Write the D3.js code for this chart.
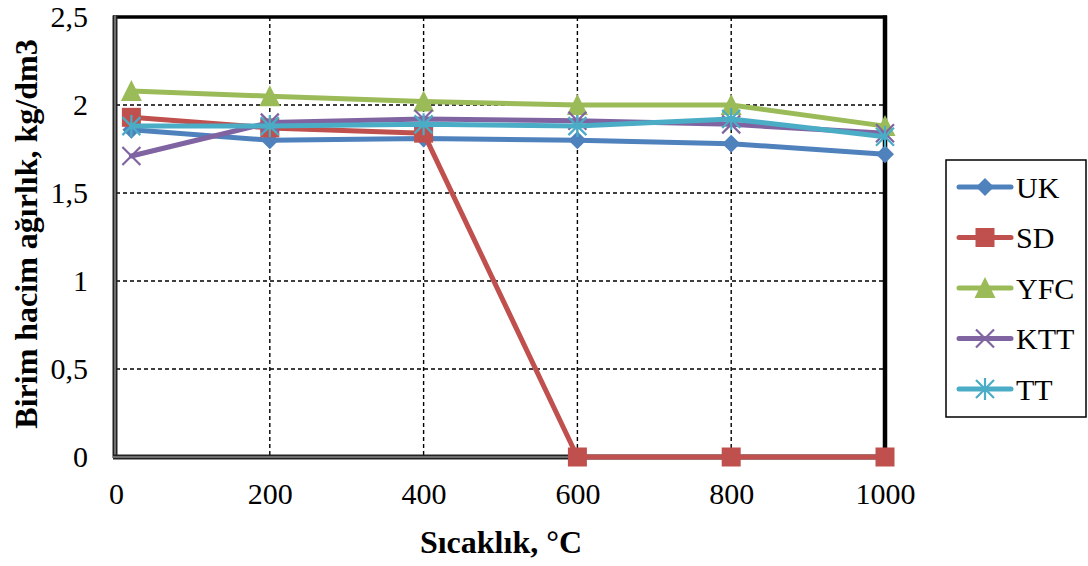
<!DOCTYPE html>
<html>
<head>
<meta charset="utf-8">
<script src="https://cdn.jsdelivr.net/npm/d3@7"></script>
<style>
  html, body { margin: 0; padding: 0; background: #fff; }
  svg { display: block; }
</style>
</head>
<body>
<svg id="chart" width="1088" height="566"></svg>
<script>
// Temperatures (°C) and unit weights (kg/dm3) per mixture
const temperatures = [20, 200, 400, 600, 800, 1000];
const seriesNames = ["UK", "SD", "YFC", "KTT", "TT"];
const ukValues  = [1.86, 1.80, 1.81, 1.80, 1.78, 1.72];
const sdValues  = [1.93, 1.87, 1.84, 0, 0, 0];
const yfcValues = [2.08, 2.05, 2.02, 2.00, 2.00, 1.88];
const kttValues = [1.71, 1.90, 1.92, 1.91, 1.89, 1.84];
const ttValues  = [1.88, 1.88, 1.89, 1.88, 1.92, 1.82];
const xTicks = [0, 200, 400, 600, 800, 1000];
const yTicks = [0, 0.5, 1, 1.5, 2, 2.5];

const serif = "'Liberation Serif', 'Times New Roman', serif";
const colors = { UK: "#4F81BD", SD: "#C0504D", YFC: "#9BBB59", KTT: "#8064A2", TT: "#4BACC6" };
const markers = { UK: "diamond", SD: "square", YFC: "triangle", KTT: "cross", TT: "star" };
const valuesByName = { UK: ukValues, SD: sdValues, YFC: yfcValues, KTT: kttValues, TT: ttValues };

const svg = d3.select("#chart");
const plotLeft = 116, plotRight = 885, plotTop = 17, plotBottom = 457;

const x = d3.scaleLinear().domain([0, 1000]).range([plotLeft, plotRight]);
const y = d3.scaleLinear().domain([0, 2.5]).range([plotBottom, plotTop]);
const fmt = v => String(v).replace(".", ",");

// Dashed grid
const grid = svg.append("g").attr("stroke", "#000").attr("stroke-width", 1.4)
  .attr("stroke-dasharray", "4,3").attr("fill", "none");
grid.selectAll("line.v").data(xTicks.filter(t => t > 0 && t < 1000)).join("line").attr("class", "v")
  .attr("x1", d => x(d)).attr("x2", d => x(d)).attr("y1", plotTop).attr("y2", plotBottom);
grid.selectAll("line.h").data(yTicks.filter(t => t > 0 && t < 2.5)).join("line").attr("class", "h")
  .attr("x1", plotLeft).attr("x2", plotRight).attr("y1", d => y(d)).attr("y2", d => y(d));

// Plot frame: heavy top/right, double left/bottom
svg.append("line").attr("x1", plotLeft - 3).attr("x2", plotRight + 2).attr("y1", plotTop).attr("y2", plotTop)
  .attr("stroke", "#000").attr("stroke-width", 3.5);
svg.append("line").attr("x1", plotRight).attr("x2", plotRight).attr("y1", plotTop - 1.5).attr("y2", plotBottom)
  .attr("stroke", "#000").attr("stroke-width", 4.5);
[[plotLeft - 1, plotTop - 1.5, plotLeft - 1, plotBottom + 1], [plotLeft - 3, plotBottom, plotRight, plotBottom]].forEach(([x1, y1, x2, y2]) => {
  svg.append("line").attr("x1", x1).attr("y1", y1).attr("x2", x2).attr("y2", y2)
    .attr("stroke", "#222").attr("stroke-width", 5);
  svg.append("line").attr("x1", x1).attr("y1", y1).attr("x2", x2).attr("y2", y2)
    .attr("stroke", "#bbb").attr("stroke-width", 1);
});

// Axes (labels only)
const xAxis = d3.axisBottom(x).tickValues(xTicks).tickSize(0).tickPadding(26).tickFormat(d => d);
svg.append("g").attr("transform", `translate(0,${plotBottom})`).call(xAxis)
  .attr("font-family", serif).attr("font-size", 30)
  .call(g => g.select(".domain").remove())
  .selectAll("text").attr("fill", "#000");
const yAxis = d3.axisLeft(y).tickValues(yTicks).tickSize(0).tickPadding(28).tickFormat(fmt);
svg.append("g").attr("transform", `translate(${plotLeft},0)`).call(yAxis)
  .attr("font-family", serif).attr("font-size", 30)
  .call(g => g.select(".domain").remove())
  .selectAll("text").attr("fill", "#000");

// Axis titles
svg.append("text").attr("x", 501).attr("y", 553).attr("text-anchor", "middle")
  .attr("font-family", serif).attr("font-size", 32).attr("font-weight", "bold").text("Sıcaklık, °C");
svg.append("text").attr("transform", "translate(37,234) rotate(-90)").attr("text-anchor", "middle")
  .attr("font-family", serif).attr("font-size", 32).attr("font-weight", "bold").text("Birim hacim ağırlık, kg/dm3");

// Marker drawing
function drawMarker(g, kind, cx, cy, color) {
  if (kind === "diamond") {
    const r = 9;
    g.append("path").attr("d", `M${cx},${cy - r}L${cx + r},${cy}L${cx},${cy + r}L${cx - r},${cy}Z`).attr("fill", color);
  } else if (kind === "square") {
    const h = 9.5;
    g.append("rect").attr("x", cx - h).attr("y", cy - h).attr("width", 2 * h).attr("height", 2 * h).attr("fill", color);
  } else if (kind === "triangle") {
    const w = 10.5, h = 10;
    g.append("path").attr("d", `M${cx},${cy - h - 1}L${cx + w},${cy + h}L${cx - w},${cy + h}Z`).attr("fill", color);
  } else if (kind === "cross") {
    const r = 9;
    g.append("path").attr("d", `M${cx - r},${cy - r}L${cx + r},${cy + r}M${cx - r},${cy + r}L${cx + r},${cy - r}`)
      .attr("stroke", color).attr("stroke-width", 2.2).attr("fill", "none");
  } else if (kind === "star") {
    const r = 9;
    g.append("path").attr("d", `M${cx - r},${cy - r}L${cx + r},${cy + r}M${cx - r},${cy + r}L${cx + r},${cy - r}M${cx},${cy - r - 2}L${cx},${cy + r + 2}`)
      .attr("stroke", color).attr("stroke-width", 2.2).attr("fill", "none");
  }
}

// Series lines with markers
const line = d3.line().x(d => x(d[0])).y(d => y(d[1]));
seriesNames.forEach(name => {
  const pts = temperatures.map((t, i) => [t, valuesByName[name][i]]);
  const g = svg.append("g").attr("class", "series");
  g.append("path").attr("d", line(pts)).attr("fill", "none")
    .attr("stroke", colors[name]).attr("stroke-width", 5).attr("stroke-linejoin", "round").attr("stroke-linecap", "round");
  pts.forEach(p => drawMarker(g, markers[name], x(p[0]), y(p[1]), colors[name]));
});

// Legend
const lg = svg.append("g");
lg.append("rect").attr("x", 946).attr("y", 160).attr("width", 140).attr("height", 257)
  .attr("fill", "#fff").attr("stroke", "#000").attr("stroke-width", 1.5);
seriesNames.forEach((name, i) => {
  const cy = 187 + i * 50.5;
  lg.append("line").attr("x1", 959).attr("x2", 1011).attr("y1", cy).attr("y2", cy)
    .attr("stroke", colors[name]).attr("stroke-width", 5).attr("stroke-linecap", "round");
  drawMarker(lg, markers[name], 985, cy, colors[name]);
  lg.append("text").attr("x", 1016).attr("y", cy).attr("dy", "0.35em")
    .attr("font-family", serif).attr("font-size", 30).attr("fill", "#000").text(name);
});
</script>
</body>
</html>
